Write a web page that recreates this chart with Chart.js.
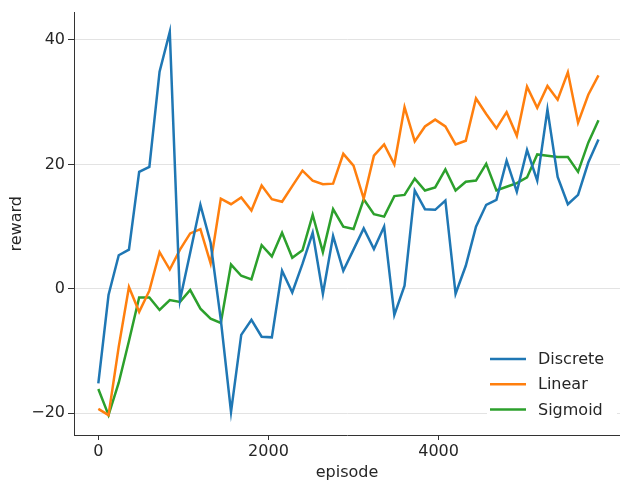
<!DOCTYPE html>
<html>
<head>
<meta charset="utf-8">
<script src="https://cdn.jsdelivr.net/npm/chart.js@4/dist/chart.umd.min.js"></script>
<style>
  html, body { margin: 0; padding: 0; background: #fff; overflow: hidden; }
  canvas { display: block; }
</style>
</head>
<body>
<canvas id="rewardChart" width="620" height="482"></canvas>
<script>
// episodes on x, one value every 120 episodes
var episodes = [0, 120, 240, 360, 480, 600, 720, 840, 960, 1080,
    1200, 1320, 1440, 1560, 1680, 1800, 1920, 2040, 2160, 2280,
    2400, 2520, 2640, 2760, 2880, 3000, 3120, 3240, 3360, 3480,
    3600, 3720, 3840, 3960, 4080, 4200, 4320, 4440, 4560, 4680,
    4800, 4920, 5040, 5160, 5280, 5400, 5520, 5640, 5760, 5880];

var discrete = [-15.2, -1.0, 5.4, 6.3, 18.8, 19.6, 34.9, 41.3, -1.8, 5.8,
    13.5, 7.4, -5.0, -19.8, -7.4, -5.0, -7.7, -7.8, 2.9, -0.6,
    4.0, 9.0, -0.8, 8.5, 2.9, 6.3, 9.7, 6.4, 10.0, -4.2,
    0.5, 15.8, 12.8, 12.7, 14.2, -0.8, 3.7, 10.0, 13.5, 14.3,
    20.6, 15.6, 22.3, 17.4, 28.8, 18.0, 13.6, 15.1, 20.3, 24.0];

var linear = [-19.3, -20.3, -9.3, 0.3, -3.7, -0.3, 5.9, 3.1, 6.3, 8.9,
    9.6, 4.1, 14.5, 13.6, 14.7, 12.6, 16.6, 14.4, 14.0, 16.5,
    19.0, 17.4, 16.8, 16.9, 21.7, 19.8, 14.5, 21.4, 23.2, 20.0,
    29.2, 23.7, 26.1, 27.2, 26.1, 23.2, 23.8, 30.6, 28.1, 25.8,
    28.4, 24.6, 32.5, 29.1, 32.6, 30.4, 34.8, 26.7, 31.2, 34.3];

var sigmoid = [-16.1, -20.3, -15.1, -8.4, -1.4, -1.4, -3.4, -1.8, -2.1, -0.2,
    -3.2, -4.8, -5.5, 3.9, 2.1, 1.5, 7.0, 5.2, 9.0, 5.0,
    6.2, 11.9, 5.9, 12.8, 10.0, 9.6, 14.4, 12.0, 11.6, 14.9,
    15.1, 17.7, 15.8, 16.3, 19.2, 15.8, 17.2, 17.4, 20.1, 15.8,
    16.4, 17.0, 17.9, 21.6, 21.4, 21.2, 21.2, 18.8, 23.5, 27.1];

var xTicks = [0, 2000, 4000];
var yTicks = [-20, 0, 20, 40];

function toPoints(values) {
    var pts = [];
    for (var i = 0; i < values.length; i++) {
        pts.push({ x: episodes[i], y: values[i] });
    }
    return pts;
}

// matplotlib style numbers: no thousands separator, real minus sign
function plainNumber(v) {
    return v < 0 ? '\u2212' + Math.abs(v) : String(v);
}

Chart.defaults.font.family = '"DejaVu Sans", sans-serif';
Chart.defaults.font.size = 16;
Chart.defaults.color = '#262626';

// legend drawn in the lower right corner of the plot, like matplotlib
var cornerLegend = {
    id: 'cornerLegend',
    afterDatasetsDraw: function (chart) {
        var ctx = chart.ctx;
        var area = chart.chartArea;
        ctx.save();
        ctx.fillStyle = '#fff';
        ctx.fillRect(area.right - 133, area.bottom - 90, 130, 76);
        ctx.font = '16px "DejaVu Sans", sans-serif';
        ctx.textBaseline = 'middle';
        chart.data.datasets.forEach(function (ds, i) {
            var y = area.bottom - 76 + i * 25.3;
            ctx.strokeStyle = ds.borderColor;
            ctx.lineWidth = 2.5;
            ctx.beginPath();
            ctx.moveTo(area.right - 130, y);
            ctx.lineTo(area.right - 94, y);
            ctx.stroke();
            ctx.fillStyle = '#262626';
            ctx.fillText(ds.label, area.right - 82, y + 1);
        });
        ctx.restore();
    }
};

var ctx = document.getElementById('rewardChart').getContext('2d');
var chart = new Chart(ctx, {
    type: 'line',
    data: {
        datasets: [
            { label: 'Discrete', data: toPoints(discrete), borderColor: '#1f77b4' },
            { label: 'Linear', data: toPoints(linear), borderColor: '#ff7f0e' },
            { label: 'Sigmoid', data: toPoints(sigmoid), borderColor: '#2ca02c' }
        ]
    },
    options: {
        responsive: false,
        animation: false,
        events: [],
        layout: { padding: { top: 6, right: 0, left: 0, bottom: 0 } },
        elements: {
            line: { borderWidth: 2.5, tension: 0, fill: false },
            point: { radius: 0 }
        },
        plugins: {
            legend: { display: false },
            tooltip: { enabled: false }
        },
        scales: {
            x: {
                type: 'linear',
                min: -286,
                max: 6133,
                afterBuildTicks: function (scale) {
                    scale.ticks = xTicks.map(function (v) { return { value: v }; });
                },
                afterFit: function (scale) { scale.height = 47; },
                grid: { drawOnChartArea: false, tickLength: 5, tickColor: '#333' },
                border: { color: '#333', width: 1 },
                ticks: { padding: 2, maxRotation: 0, callback: plainNumber },
                title: { display: true, text: 'episode', padding: 0 }
            },
            y: {
                min: -23.5,
                max: 44.4,
                afterBuildTicks: function (scale) {
                    scale.ticks = yTicks.map(function (v) { return { value: v }; });
                },
                afterFit: function (scale) { scale.width = 74; },
                grid: { color: '#e3e3e3', lineWidth: 1, tickLength: 6, tickColor: '#333' },
                border: { color: '#333', width: 1 },
                ticks: { padding: 3, callback: plainNumber },
                title: { display: true, text: 'reward', padding: 7 }
            }
        }
    },
    plugins: [cornerLegend]
});
</script>
</body>
</html>
